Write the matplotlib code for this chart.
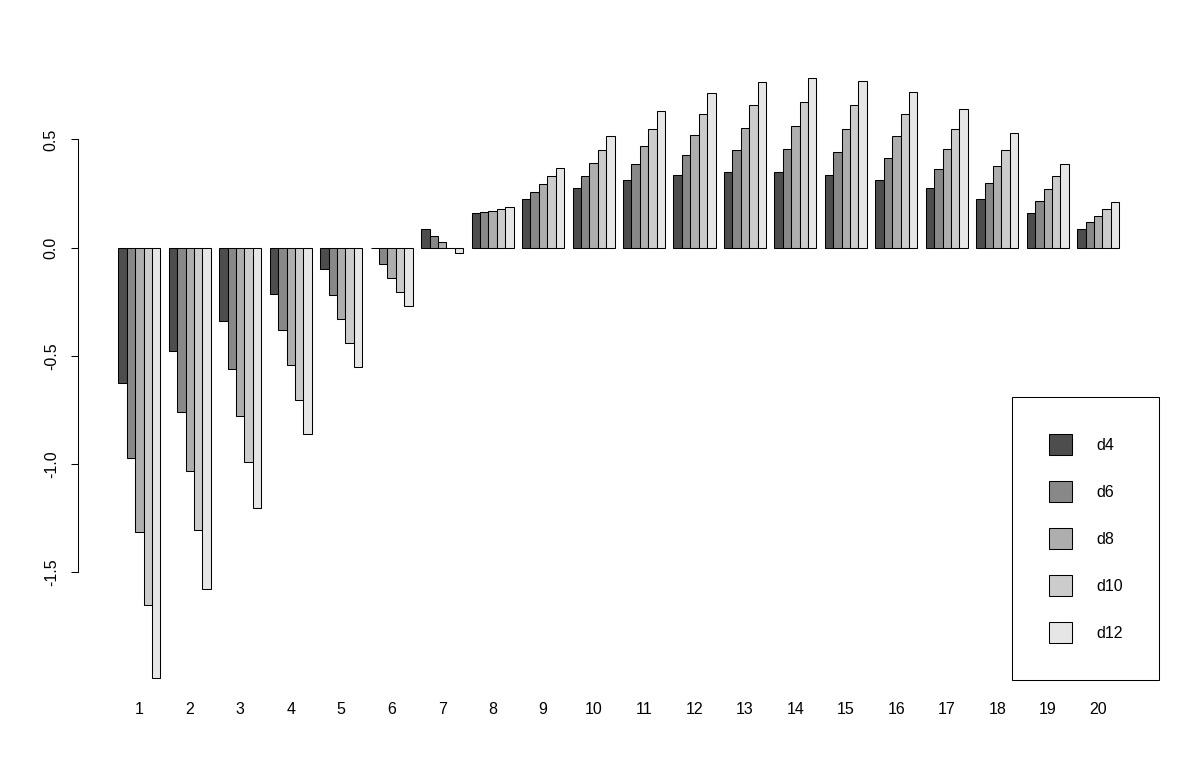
import matplotlib
matplotlib.use('Agg')
import matplotlib.pyplot as plt
import numpy as np

plt.rcParams['font.family'] = ['Liberation Sans', 'DejaVu Sans']
plt.rcParams['axes.unicode_minus'] = False

groups = [str(i) for i in range(1, 21)]
series = ['d4', 'd6', 'd8', 'd10', 'd12']

d4 = [-0.625, -0.479, -0.337, -0.214, -0.098, 0.0, 0.087, 0.162, 0.225, 0.276,
      0.313, 0.336, 0.350, 0.350, 0.336, 0.313, 0.276, 0.225, 0.162, 0.087]
d6 = [-0.971, -0.759, -0.560, -0.379, -0.219, -0.074, 0.055, 0.166, 0.257, 0.331,
      0.387, 0.428, 0.451, 0.456, 0.442, 0.414, 0.363, 0.299, 0.216, 0.119]
d8 = [-1.313, -1.030, -0.777, -0.542, -0.329, -0.140, 0.028, 0.170, 0.294, 0.391,
      0.470, 0.521, 0.553, 0.562, 0.548, 0.516, 0.456, 0.377, 0.271, 0.146]
d10 = [-1.649, -1.302, -0.990, -0.704, -0.440, -0.203, 0.0, 0.179, 0.331, 0.451,
       0.548, 0.619, 0.660, 0.673, 0.660, 0.619, 0.548, 0.451, 0.331, 0.179]
d12 = [-1.988, -1.577, -1.201, -0.859, -0.550, -0.269, -0.023, 0.188, 0.368, 0.516,
       0.632, 0.715, 0.766, 0.784, 0.770, 0.719, 0.641, 0.530, 0.387, 0.211]

yticks = [-1.5, -1.0, -0.5, 0.0, 0.5]
ytick_labels = ['-1.5', '-1.0', '-0.5', '0.0', '0.5']

# R gray.colors(5)
colors = ['#4D4D4D', '#888888', '#AEAEAE', '#CCCCCC', '#E6E6E6']

data = [d4, d6, d8, d10, d12]
n = len(groups)
k = len(series)

fig = plt.figure(figsize=(12, 7.76), dpi=100)
ax = fig.add_axes([0.06525, 0.09536, 0.9008, 0.8351])

# beside=TRUE layout: bar width 1, one unit gap between groups
for j, (vals, col, name) in enumerate(zip(data, colors, series)):
    x = np.arange(n) * (k + 1) + j + 1.5
    ax.bar(x, vals, width=1.0, color=col, edgecolor='black', linewidth=0.75, label=name)

centers = np.arange(n) * (k + 1) + 1 + k / 2
ax.set_xticks(centers)
ax.set_xticklabels(groups, fontsize=11.5)
ax.tick_params(axis='x', length=0, pad=0)

ax.set_yticks(yticks)
ax.set_yticklabels(ytick_labels, fontsize=11.5, rotation=90, va='center')
ax.tick_params(axis='y', length=5, width=0.75, pad=9)

# R style axis ranges (4% extension)
xr = (k + 1) * n - 1
ax.set_xlim(1 - 0.04 * xr, (k + 1) * n + 0.04 * xr)
allv = np.concatenate(data)
lo, hi = min(0, allv.min()), max(0, allv.max())
ax.set_ylim(lo - 0.04 * (hi - lo), hi + 0.04 * (hi - lo))

for s in ['top', 'right', 'bottom']:
    ax.spines[s].set_visible(False)
ax.spines['left'].set_bounds(-1.5, 0.5)
ax.spines['left'].set_linewidth(0.75)

leg = ax.legend(loc='lower right', bbox_to_anchor=(1.0, 0.034), borderaxespad=0,
                fontsize=11.5, fancybox=False, framealpha=1, edgecolor='black',
                handlelength=1.45, handleheight=1.65, labelspacing=1.63,
                handletextpad=1.5, borderpad=2.3)
leg.get_frame().set_linewidth(0.75)
for h in leg.legend_handles:
    h.set_edgecolor('black')
    h.set_linewidth(0.75)

plt.savefig('out.png', dpi=100)
